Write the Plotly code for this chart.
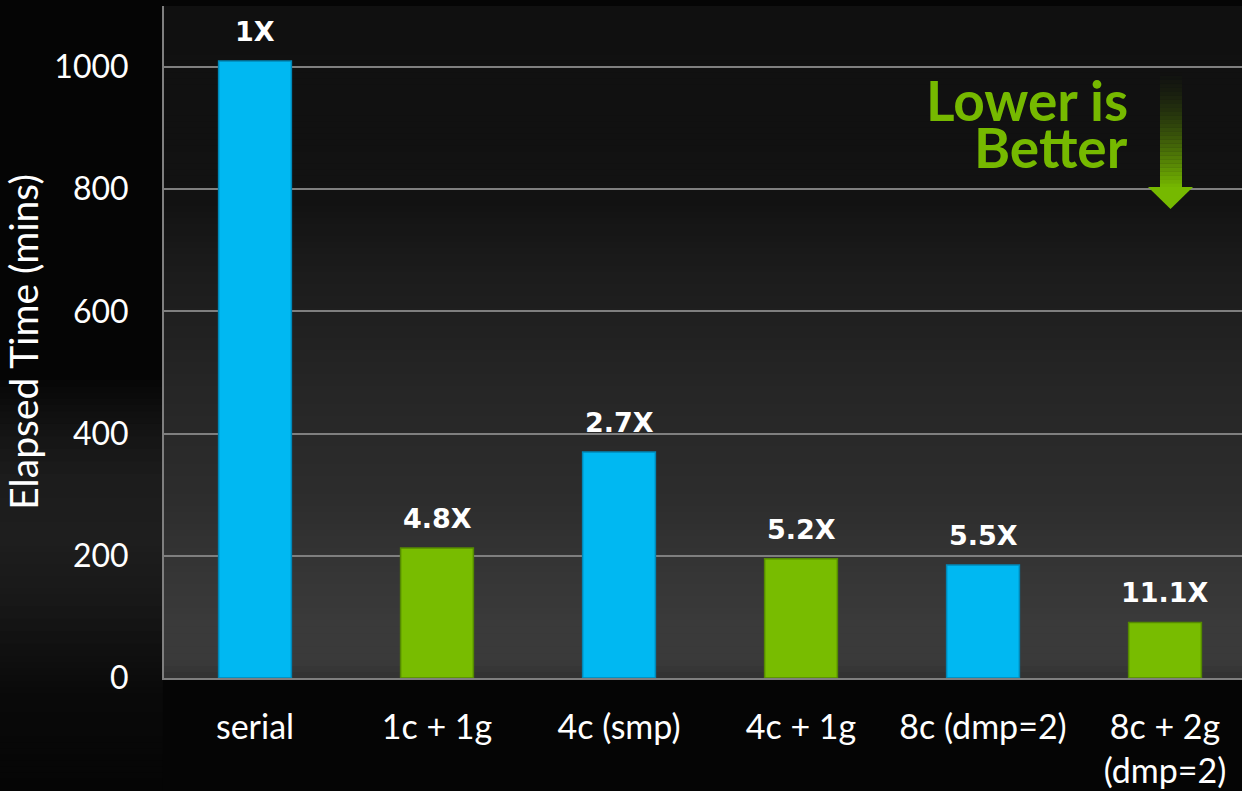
import plotly.graph_objects as go

# Elapsed time per configuration and the speedup relative to serial
categories = ["serial", "1c + 1g", "4c (smp)", "4c + 1g", "8c (dmp=2)", "8c + 2g<br>(dmp=2)"]
elapsed_mins = [1010, 213, 370, 195, 185, 91]
speedup_labels = ["1X", "4.8X", "2.7X", "5.2X", "5.5X", "11.1X"]
bar_kind = ["cpu", "gpu", "cpu", "gpu", "cpu", "gpu"]
y_ticks = [0, 200, 400, 600, 800, 1000]

W, H = 1242, 791
L, R, T, B = 164, 0, 6, 113
PW, PH = W - L - R, H - T - B

FILL = {"cpu": "#00B8F2", "gpu": "#78BC00"}
EDGE = {"cpu": "#0088B8", "gpu": "#558A00"}
GRID = "#7F7F7F"
FONT = "Lato"


def px(x):
    return (x - L) / PW


def py(y):
    return (H - B - y) / PH


fig = go.Figure()
fig.add_trace(go.Bar(
    x=categories,
    y=elapsed_mins,
    width=0.4,
    marker=dict(color=[FILL[k] for k in bar_kind],
                line=dict(color=[EDGE[k] for k in bar_kind], width=1.5)),
    hoverinfo="x+y",
))

shapes = []


def ramp(stops, x0, x1):
    """Stack thin overlapping strips to fake a vertical grey gradient."""
    last = stops[-1][0]
    for (y0, c0), (y1, c1) in zip(stops[:-1], stops[1:]):
        n = max(1, int((y1 - y0) / 6))
        for i in range(n):
            ya = y0 + (y1 - y0) * i / n
            yb = min(y0 + (y1 - y0) * (i + 1) / n + 1.5, last)
            c = int(round(c0 + (c1 - c0) * (i + 0.5) / n))
            shapes.append(dict(type="rect", xref="paper", yref="paper",
                               x0=x0, x1=x1, y0=py(yb), y1=py(ya),
                               fillcolor=f"rgb({c},{c},{c})", line_width=0,
                               layer="below"))


# dark, softly lit backdrop inside the plot area
ramp([(6, 16), (200, 18), (260, 26), (320, 32), (380, 37), (440, 41),
      (500, 45), (560, 52), (620, 58), (660, 58), (678, 50)], 0, px(W) + 0.01)

# faint haze in the left margin behind the axis title
ramp([(380, 6), (430, 20), (480, 28), (540, 30), (600, 24), (650, 16),
      (700, 9), (791, 5)], px(0), px(L) - 0.001)

# "lower is better" arrow: fading shaft and a solid head
shaft_top, shaft_bot = 68, 187
steps = 30
for i in range(steps):
    ya = shaft_top + (shaft_bot - shaft_top) * i / steps
    yb = shaft_top + (shaft_bot - shaft_top) * (i + 1) / steps
    a = ((i + 0.5) / steps) ** 1.6
    shapes.append(dict(type="rect", xref="paper", yref="paper",
                       x0=px(1160), x1=px(1182), y0=py(yb), y1=py(ya),
                       fillcolor=f"rgba(118,185,0,{a:.3f})", line_width=0,
                       layer="above"))
shapes.append(dict(type="path", xref="paper", yref="paper",
                   path=f"M {px(1148)},{py(187)} L {px(1193)},{py(187)} L {px(1170.5)},{py(209)} Z",
                   fillcolor="#76B900", line_width=0, layer="above"))

annotations = [
    dict(text="Lower is", xref="paper", yref="paper", x=px(1130), y=py(100),
         xanchor="right", yanchor="middle", showarrow=False, height=44,
         font=dict(family=FONT, size=55, color="#76B900", weight="bold")),
    dict(text="Better", xref="paper", yref="paper", x=px(1130), y=py(147),
         xanchor="right", yanchor="middle", showarrow=False, height=44,
         font=dict(family=FONT, size=55, color="#76B900", weight="bold")),
]

# speedup labels sit just above each bar
for cat, val, lab in zip(categories, elapsed_mins, speedup_labels):
    annotations.append(dict(
        text=lab, x=cat, y=val, xref="x", yref="y",
        xanchor="center", yanchor="bottom", yshift=12, showarrow=False,
        font=dict(family="DejaVu Sans", size=27, color="white", weight="bold"),
    ))

fig.update_layout(
    width=W, height=H,
    margin=dict(l=L, r=R, t=T, b=B, pad=0),
    paper_bgcolor="#050505",
    plot_bgcolor="#111111",
    showlegend=False,
    shapes=shapes,
    annotations=annotations,
    font=dict(family=FONT, color="white", size=33),
    xaxis=dict(
        type="category",
        range=[-0.5, 5.423],
        showline=True, linecolor=GRID, linewidth=2,
        showgrid=False, ticks="",
        ticklabelstandoff=18,
        tickfont=dict(family=FONT, size=34, color="white"),
        fixedrange=True,
    ),
    yaxis=dict(
        range=[0, 1100],
        tickvals=y_ticks,
        showline=True, linecolor=GRID, linewidth=2,
        showgrid=True, gridcolor=GRID, gridwidth=2,
        zeroline=False, ticks="",
        ticklabelstandoff=27,
        tickfont=dict(family=FONT, size=32, color="white"),
        title=dict(text="Elapsed Time (mins)", standoff=7,
                   font=dict(family=FONT, size=39, color="white")),
        fixedrange=True,
    ),
)

fig.write_html("out.html")
